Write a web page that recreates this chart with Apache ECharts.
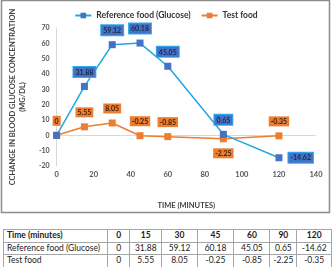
<!DOCTYPE html>
<html>
<head>
<meta charset="utf-8">
<script src="https://cdn.jsdelivr.net/npm/echarts@6/dist/echarts.min.js"></script>
<style>
body{margin:0;padding:0;background:#fff;font-family:Lato,"Noto Sans",sans-serif;}
#main{position:absolute;left:0;top:0;width:332px;height:215px;}
#tbl{position:absolute;left:3px;top:229px;border-collapse:collapse;font-size:8.5px;color:#222;}
#tbl td{border:1px solid #a6a6a6;height:11.5px;padding:0 3px;text-align:center;line-height:11px;white-space:nowrap;}
#tbl td.first{text-align:left;}
#tbl tr.head td{font-weight:bold;}
</style>
</head>
<body>
<div id="main"></div>
<table id="tbl"></table>
<script>
var times=[0,15,30,45,60,90,120];
var refFood=[0,31.88,59.12,60.18,45.05,0.65,-14.62];
var testFood=[0,5.55,8.05,-0.25,-0.85,-2.25,-0.35];
var refName="Reference food (Glucose)";
var testName="Test food";
var colWidths=[98,16,26,29,31,30,19,28];

//label positions for each point
var refPos=['top','top','top','top','top','top','right'];
var testPos=['top','top','top','top','top','bottom','top'];

function buildData(vals,pos,hideFirst){
	var arr=[];
	for(var i=0;i<times.length;i++){
		var item={value:[times[i],vals[i]],label:{position:pos[i]}};
		if(hideFirst && i==0){
			item.label.show=false;
		}
		arr.push(item);
	}
	return arr;
}

var myChart=echarts.init(document.getElementById("main"));
var option={
	animation:false,
	textStyle:{fontFamily:'Lato'},
	legend:{
		top:6,left:'center',itemWidth:16,itemHeight:7,itemGap:10,
		textStyle:{fontSize:8.5,color:'#333',fontWeight:'bold'},
		data:[refName,testName]
	},
	grid:{left:47,right:16,top:28,bottom:20},
	xAxis:{
		type:'value',min:0,max:140,interval:20,
		name:'TIME (MINUTES)',nameLocation:'middle',nameGap:36,
		nameTextStyle:{fontSize:7.5,fontWeight:'bold',color:'#444'},
		axisLine:{onZero:true,lineStyle:{color:'#d9d9d9'}},
		axisTick:{show:false},
		axisLabel:{fontSize:7.5,fontWeight:'bold',color:'#555',margin:5},
		splitLine:{show:false}
	},
	yAxis:{
		type:'value',min:-20,max:70,interval:10,
		name:'CCHANGE IN BLOOD GLUCOSE CONCENTRATION\n(MG/DL)',
		nameLocation:'middle',nameGap:22,nameRotate:90,
		nameTextStyle:{fontSize:7.5,fontWeight:'bold',color:'#444',lineHeight:10},
		axisLine:{show:true,lineStyle:{color:'#d9d9d9'}},
		axisTick:{show:false},
		axisLabel:{fontSize:7,fontWeight:'bold',color:'#555',margin:7},
		splitLine:{show:false}
	},
	graphic:[{
		type:'rect',shape:{x:1.5,y:0.5,width:328,height:212},
		style:{fill:'none',stroke:'#8c8c8c',lineWidth:1.5},silent:true
	}],
	series:[{
		name:refName,type:'line',
		data:buildData(refFood,refPos,true),
		symbol:'rect',symbolSize:7,
		lineStyle:{color:'#23a6e0',width:1.5},
		itemStyle:{color:'#4472c4'},
		label:{show:true,fontSize:7,fontWeight:'bold',color:'#1b2a4a',
			backgroundColor:'#4472c4',borderColor:'#2fb0ef',borderWidth:1,
			padding:[2,2,1,2],distance:6,
			formatter:function(p){return p.value[1];}},
		z:3
	},{
		name:testName,type:'line',
		data:buildData(testFood,testPos,false),
		symbol:'rect',symbolSize:7,
		lineStyle:{color:'#ed7d31',width:1.5},
		itemStyle:{color:'#ed7d31'},
		label:{show:true,fontSize:7,fontWeight:'bold',color:'#3a2410',
			backgroundColor:'#ed7d31',padding:[2,2,1,2],distance:6,
			formatter:function(p){return p.value[1];}},
		z:2
	}]
};
myChart.setOption(option);

//表格
function addRow(cls,title,vals){
	var html="<tr class='"+cls+"'><td class='first' style='width:"+colWidths[0]+"px'>"+title+"</td>";
	for(var i=0;i<vals.length;i++){
		html+="<td style='width:"+colWidths[i+1]+"px'>"+vals[i]+"</td>";
	}
	html+="</tr>";
	document.getElementById("tbl").innerHTML+=html;
}
addRow('head','Time (minutes)',times);
addRow('','Reference food (Glucose)',refFood);
addRow('','Test food',testFood);
</script>
</body>
</html>
